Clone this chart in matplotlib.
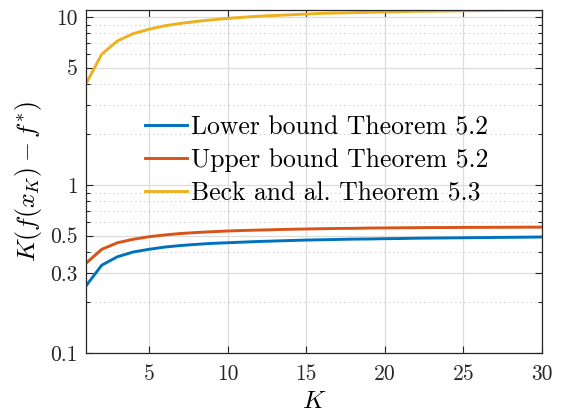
import numpy as np
import matplotlib
matplotlib.use("Agg")
import matplotlib.pyplot as plt
from matplotlib.ticker import FixedLocator, NullFormatter, LogLocator

plt.rcParams['font.family'] = 'serif'
plt.rcParams['font.serif'] = ['cmr10', 'DejaVu Serif']
plt.rcParams['mathtext.fontset'] = 'cm'
plt.rcParams['axes.formatter.use_mathtext'] = True

# iterations
K = list(range(1, 31))

lower_bound = [0.251, 0.333, 0.374, 0.399, 0.414, 0.427, 0.436, 0.443, 0.449, 0.453,
               0.457, 0.461, 0.464, 0.467, 0.470, 0.472, 0.474, 0.476, 0.477, 0.479,
               0.480, 0.482, 0.483, 0.484, 0.485, 0.486, 0.487, 0.488, 0.489, 0.490]
upper_bound = [0.342, 0.414, 0.453, 0.475, 0.492, 0.504, 0.514, 0.521, 0.527, 0.532,
               0.536, 0.539, 0.542, 0.545, 0.547, 0.549, 0.551, 0.552, 0.554, 0.555,
               0.556, 0.557, 0.558, 0.558, 0.559, 0.559, 0.560, 0.560, 0.561, 0.561]
beck_bound = [4.0, 6.0, 7.2, 7.95, 8.45, 8.85, 9.15, 9.4, 9.6, 9.8,
              9.95, 10.1, 10.2, 10.3, 10.4, 10.5, 10.55, 10.6, 10.65, 10.7,
              10.75, 10.8, 10.82, 10.85, 10.88, 10.9, 10.93, 10.95, 10.97, 11.0]

labels = ['Lower bound Theorem 5.2', 'Upper bound Theorem 5.2', 'Beck and al. Theorem 5.3']
colors = ['#0072BD', '#D95319', '#EDB120']

xticks = [5, 10, 15, 20, 25, 30]
yticks = [0.1, 0.3, 0.5, 1, 5, 10]
yticklabels = ['0.1', '0.3', '0.5', '1', '5', '10']

fig = plt.figure(figsize=(5.64, 4.15), dpi=100)
ax = fig.add_axes([0.1525, 0.1494, 0.8085, 0.8266])

for series, lab, c in zip([lower_bound, upper_bound, beck_bound], labels, colors):
    ax.plot(K, series, color=c, linewidth=2.1, label=lab)

ax.set_yscale('log')
ax.set_xlim(1, 30)
ax.set_ylim(0.1, 11)

ax.set_xticks(xticks)
ax.set_xticklabels([str(t) for t in xticks])
ax.yaxis.set_major_locator(FixedLocator(yticks))
ax.set_yticklabels(yticklabels)
minor = [v for v in LogLocator(base=10, subs=np.arange(2, 10)).tick_values(0.1, 11) if 0.1 < v < 11 and v not in yticks]
ax.yaxis.set_minor_locator(FixedLocator(minor))
ax.yaxis.set_minor_formatter(NullFormatter())
ax.xaxis.set_minor_locator(FixedLocator([]))

ax.grid(True, which='major', color='#dcdcdc', linewidth=0.9, linestyle='-')
ax.grid(True, which='minor', axis='y', color='#c8c8c8', linewidth=0.8, linestyle=(0, (1, 3)))
ax.set_axisbelow(True)

ax.tick_params(which='both', direction='in', top=True, right=True, colors='#262626', labelsize=15.5)
ax.tick_params(which='major', length=5, width=0.8)
ax.tick_params(which='minor', length=3, width=0.8)
ax.tick_params(axis='x', pad=8)
ax.tick_params(axis='y', pad=6)
for s in ax.spines.values():
    s.set_color('#262626')
    s.set_linewidth(0.9)

ax.set_xlabel('$K$', fontsize=18, labelpad=5)
ax.set_ylabel(r'$K(f(x_K)-f^{*})$', fontsize=18.5, labelpad=4)

ax.legend(loc='center left', bbox_to_anchor=(0.129, 0.561), frameon=False, fontsize=18.5,
          handlelength=1.65, handletextpad=0.15, labelspacing=0.36, borderpad=0, borderaxespad=0)

fig.savefig('out.png', dpi=100)
